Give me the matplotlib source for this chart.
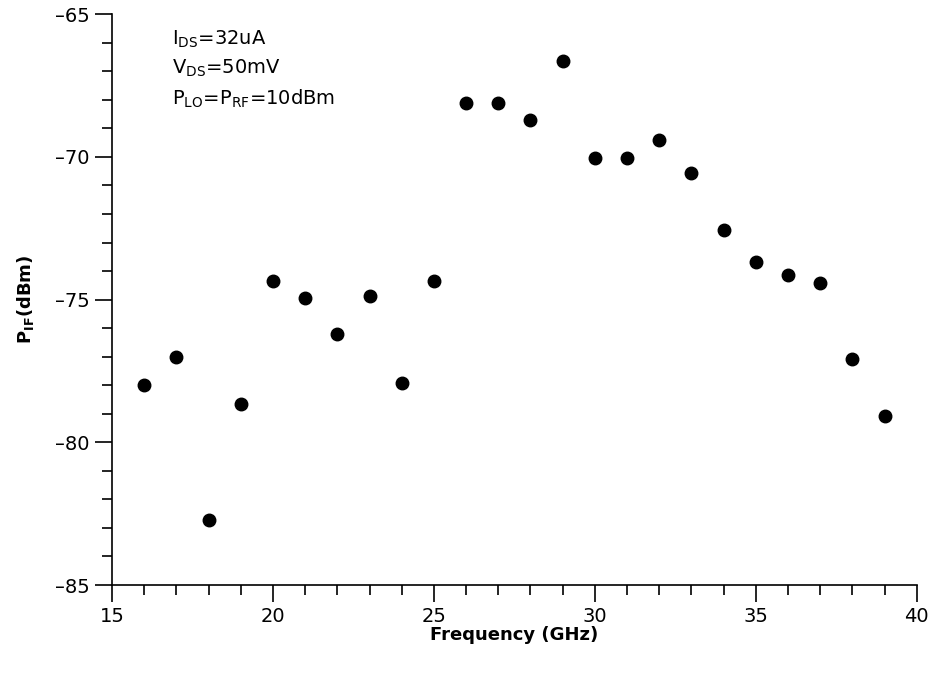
import numpy as np
import matplotlib.pyplot as plt
from matplotlib.ticker import MultipleLocator

# frequency points and measured IF power
freq = [16, 17, 18, 19, 20, 21, 22, 23, 24, 25, 26, 27,
        28, 29, 30, 31, 32, 33, 34, 35, 36, 37, 38, 39]
p_if = [-78.0, -77.0, -82.72, -78.66, -74.35, -74.95, -76.21, -74.88,
        -77.92, -74.35, -68.11, -68.11, -68.70, -66.65, -70.03, -70.03,
        -69.42, -70.57, -72.55, -73.69, -74.15, -74.42, -77.07, -79.08]

xticks = [15, 20, 25, 30, 35, 40]
yticks = [-85, -80, -75, -70, -65]

plt.rcParams['font.family'] = ['DejaVu Sans']
fig = plt.figure(figsize=(9.38, 6.75), dpi=100)
ax = fig.add_axes([0.1194, 0.1333, 0.858, 0.8457])

ax.plot(freq, p_if, 'o', color='black', markersize=9, clip_on=False)

ax.set_xlim(15, 40)
ax.set_ylim(-85, -65)
ax.set_xticks(xticks)
ax.set_yticks(yticks)
ax.set_yticklabels([f'\u2013{abs(v)}' for v in yticks])
ax.xaxis.set_minor_locator(MultipleLocator(1))
ax.yaxis.set_minor_locator(MultipleLocator(1))

ax.spines['top'].set_visible(False)
ax.spines['right'].set_visible(False)
for s in ['left', 'bottom']:
    ax.spines[s].set_linewidth(1.2)

ax.tick_params(which='major', direction='out', length=12, width=1.2, labelsize=14, pad=4)
ax.tick_params(which='minor', direction='out', length=7, width=1.2)

ax.set_xlabel('Frequency (GHz)', fontsize=13, fontweight='bold', labelpad=0)
ax.set_ylabel(r'P$_{\mathregular{IF}}$(dBm)', fontsize=13, fontweight='bold', labelpad=14)

txt = (r'I$_{\mathregular{DS}}$=32uA' + '\n' +
       r'V$_{\mathregular{DS}}$=50mV' + '\n' +
       r'P$_{\mathregular{LO}}$=P$_{\mathregular{RF}}$=10dBm')
ax.text(0.075, 0.975, txt, transform=ax.transAxes, fontsize=14, va='top', ha='left',
        linespacing=1.5)

fig.savefig('out.png', dpi=100)
